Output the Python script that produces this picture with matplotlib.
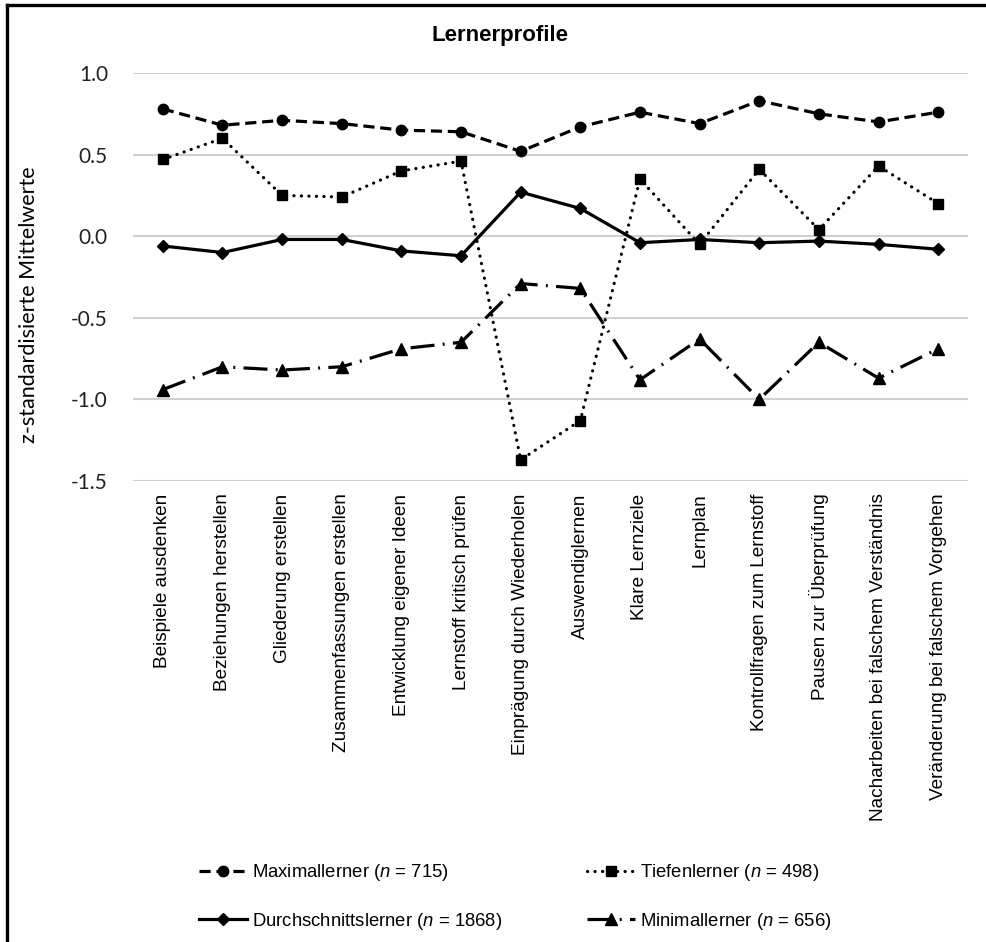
import matplotlib
matplotlib.use("Agg")
import matplotlib.pyplot as plt
from matplotlib.lines import Line2D

categories = [
    "Beispiele ausdenken",
    "Beziehungen herstellen",
    "Gliederung erstellen",
    "Zusammenfassungen erstellen",
    "Entwicklung eigener Ideen",
    "Lernstoff kritisch prüfen",
    "Einprägung durch Wiederholen",
    "Auswendiglernen",
    "Klare Lernziele",
    "Lernplan",
    "Kontrollfragen zum Lernstoff",
    "Pausen zur Überprüfung",
    "Nacharbeiten bei falschem Verständnis",
    "Veränderung bei falschem Vorgehen",
]

maximal = [0.78, 0.68, 0.71, 0.69, 0.65, 0.64, 0.52, 0.67, 0.76, 0.69, 0.83, 0.75, 0.70, 0.76]
tiefen = [0.47, 0.60, 0.25, 0.24, 0.40, 0.46, -1.37, -1.13, 0.35, -0.05, 0.41, 0.04, 0.43, 0.20]
durchschnitt = [-0.06, -0.10, -0.02, -0.02, -0.09, -0.12, 0.27, 0.17, -0.04, -0.02, -0.04, -0.03, -0.05, -0.08]
minimal = [-0.94, -0.80, -0.82, -0.80, -0.69, -0.65, -0.29, -0.32, -0.88, -0.63, -1.00, -0.65, -0.87, -0.69]

labels = [
    "Maximallerner ($n$ = 715)",
    "Tiefenlerner ($n$ = 498)",
    "Durchschnittslerner ($n$ = 1868)",
    "Minimallerner ($n$ = 656)",
]
y_ticks = [-1.5, -1.0, -0.5, 0.0, 0.5, 1.0]

plt.rcParams["axes.unicode_minus"] = False
plt.rcParams["mathtext.fontset"] = "custom"
plt.rcParams["mathtext.rm"] = "Liberation Sans"
plt.rcParams["mathtext.it"] = "Liberation Sans:italic"

W, H = 987, 942
fig = plt.figure(figsize=(W / 100, H / 100), dpi=100)
fig.patch.set_facecolor("white")

# plot area in pixels: x 133..968, y 73..481
ax = fig.add_axes([133 / W, 1 - 481 / H, (968 - 133) / W, (481 - 73) / H])

x = list(range(len(categories)))
lw = 2.3

line_max, = ax.plot(x, maximal, color="black", lw=lw, marker="o", ms=7.5,
                    dashes=(3.5, 1.8), label=labels[0], zorder=3)
line_tief, = ax.plot(x, tiefen, color="black", lw=lw, marker="s", ms=6.5,
                     dashes=(0.05, 2.3), dash_capstyle="round", label=labels[1], zorder=3)
line_durch, = ax.plot(x, durchschnitt, color="black", lw=lw, marker="D", ms=6.5,
                      linestyle="-", label=labels[2], zorder=3)
line_min, = ax.plot(x, minimal, color="black", lw=lw, marker="^", ms=9,
                    dashes=(7.5, 2.6, 0.6, 2.6), label=labels[3], zorder=3)

ax.set_xlim(-0.5, len(categories) - 0.5)
ax.set_ylim(-1.5, 1.0)
ax.set_yticks(y_ticks)
ax.set_yticklabels([f"{v:.1f}" for v in y_ticks], family="Lato", fontsize=15, color="#222222")
ax.set_xticks(x)
ax.set_xticklabels(categories, rotation=90, family="Liberation Sans", fontsize=13.7)
ax.tick_params(axis="y", length=0, pad=18)
ax.tick_params(axis="x", length=0, pad=9)

ax.grid(axis="y", color="#d0d0d0", linewidth=1.5, zorder=0)
ax.set_axisbelow(True)
for spine in ax.spines.values():
    spine.set_visible(False)

fig.text(29 / W, 1 - 305 / H, "z-standardisierte Mittelwerte", rotation=90,
         ha="center", va="center", family="Lato", fontsize=15.5)
fig.text(500 / W, 1 - 36 / H, "Lernerprofile", ha="center", va="center",
         family="Liberation Sans", fontweight="bold", fontsize=16)

# legend: two columns placed separately so they start where the reference does
legend_style = dict(
    loc="upper left",
    frameon=False,
    borderpad=0,
    handlelength=2.6,
    handletextpad=0.25,
    labelspacing=1.5,
    prop={"family": "Liberation Sans", "size": 13.3},
    numpoints=1,
)
fig.legend(handles=[line_max, line_durch], bbox_to_anchor=(190 / W, 1 - 853 / H), **legend_style)
fig.legend(handles=[line_tief, line_min], bbox_to_anchor=(578 / W, 1 - 853 / H), **legend_style)

# frame lines on top and left
fig.add_artist(Line2D([7 / W, 1], [1 - 5 / H, 1 - 5 / H], color="black", lw=2.4,
                      transform=fig.transFigure))
fig.add_artist(Line2D([7 / W, 7 / W], [0, 1 - 5 / H], color="black", lw=2.4,
                      transform=fig.transFigure))

fig.savefig("out.png", dpi=100, facecolor="white")
